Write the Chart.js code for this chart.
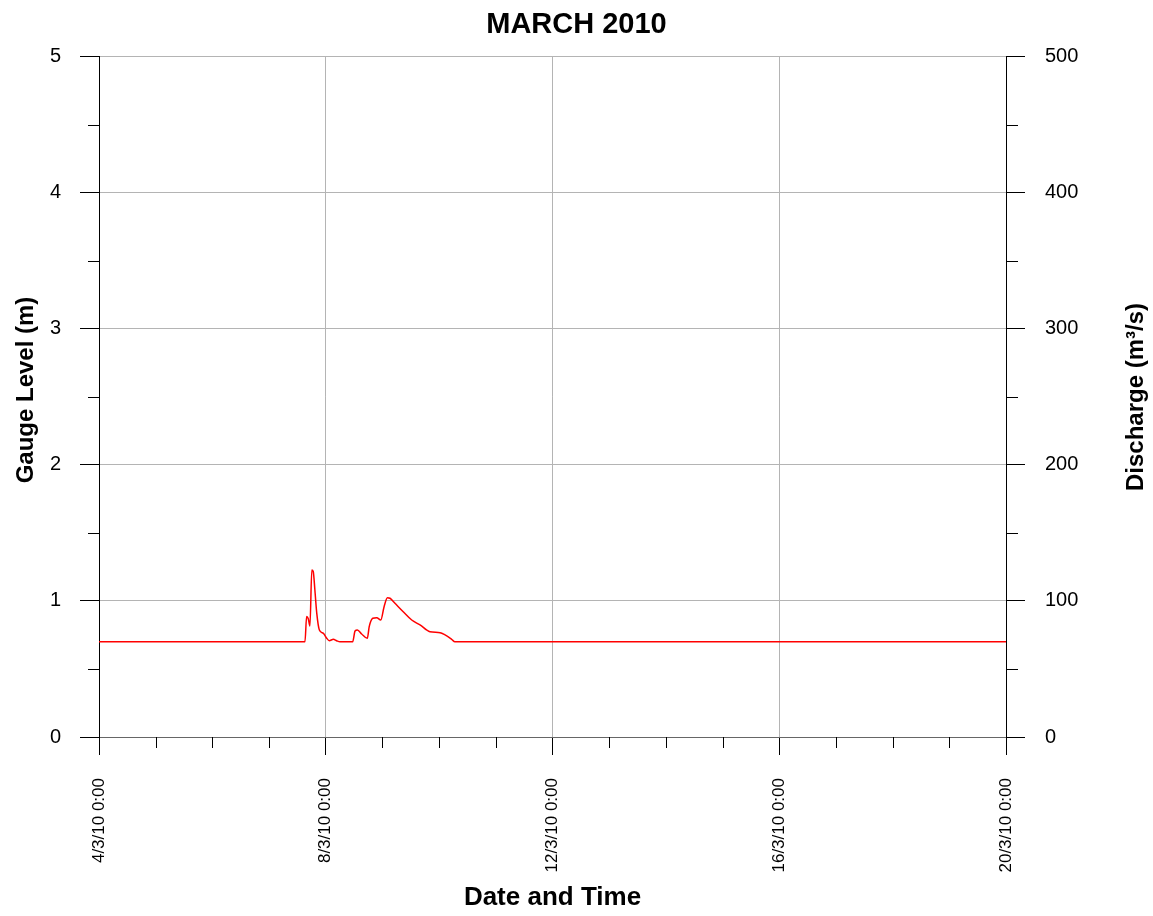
<!DOCTYPE html>
<html>
<head>
<meta charset="utf-8">
<script src="https://cdn.jsdelivr.net/npm/chart.js@4/dist/chart.umd.min.js"></script>
<style>
  html, body { margin: 0; padding: 0; background: #fff; }
</style>
</head>
<body>
<canvas id="grafico" width="1153" height="916"></canvas>
<script>
// hours since 4/3/10 0:00
var hours = [0, 87.2, 87.9, 88.6, 89.3, 90.1, 90.7, 91.4, 92.2, 93.3, 95.0, 96.4, 97.5,
  99.2, 100.6, 102, 107.4, 108.4, 109.4, 111.2, 113.6, 114.4, 115.9, 117.6, 119.3,
  120.7, 122.1, 123.2, 125.3, 128.8, 132.4, 135.9, 140.1, 144.4, 146.5, 149.3, 150.7, 384];
// gauge level (m)
var gaugeLevel = [0.70, 0.70, 0.885, 0.87, 0.816, 1.228, 1.216, 1.081, 0.909, 0.787, 0.762, 0.726, 0.708,
  0.718, 0.708, 0.70, 0.70, 0.779, 0.787, 0.757, 0.725, 0.811, 0.873, 0.877, 0.860,
  0.958, 1.024, 1.02, 0.983, 0.921, 0.86, 0.824, 0.774, 0.767, 0.75, 0.718, 0.70, 0.70];
var xTickLabels = ['4/3/10 0:00', '8/3/10 0:00', '12/3/10 0:00', '16/3/10 0:00', '20/3/10 0:00'];

var fonte = 'Arial, "Liberation Sans", sans-serif';

var pontos = hours.map(function (h, i) { return { x: h, y: gaugeLevel[i] }; });

// minor ticks + vertical axis titles
var extras = {
  id: 'extras',
  afterDraw: function (chart) {
    var ctx = chart.ctx;
    var area = chart.chartArea;
    var sx = chart.scales.x, yl = chart.scales.y, yr = chart.scales.y2;
    ctx.save();
    ctx.strokeStyle = '#000';
    ctx.lineWidth = 1;
    ctx.beginPath();
    for (var h = 24; h < 384; h += 24) {
      if (h % 96 === 0) continue;
      var px = Math.round(sx.getPixelForValue(h)) + 0.5;
      ctx.moveTo(px, area.bottom);
      ctx.lineTo(px, area.bottom + 11);
    }
    for (var v = 0.5; v < 5; v += 1) {
      var py = Math.round(yl.getPixelForValue(v)) + 0.5;
      ctx.moveTo(area.left, py);
      ctx.lineTo(area.left - 11, py);
    }
    for (var d = 50; d < 500; d += 100) {
      var py2 = Math.round(yr.getPixelForValue(d)) + 0.5;
      ctx.moveTo(area.right, py2);
      ctx.lineTo(area.right + 12, py2);
    }
    ctx.stroke();

    ctx.fillStyle = '#000';
    ctx.font = 'bold 24px ' + fonte;
    ctx.textAlign = 'center';
    ctx.textBaseline = 'middle';

    ctx.save();
    ctx.translate(26, 390);
    ctx.rotate(-Math.PI / 2);
    ctx.fillText('Gauge Level (m)', 0, 0);
    ctx.restore();

    ctx.translate(1136, 397);
    ctx.rotate(-Math.PI / 2);
    ctx.fillText('Discharge (m\u00b3/s)', 0, 0);
    ctx.restore();
  }
};

var ctx = document.getElementById('grafico').getContext('2d');
var myChart = new Chart(ctx, {
  type: 'line',
  data: {
    datasets: [{
      label: 'Gauge Level',
      data: pontos,
      borderColor: '#ff0000',
      borderWidth: 1.5,
      pointRadius: 0,
      fill: false,
      cubicInterpolationMode: 'monotone',
      yAxisID: 'y'
    }]
  },
  options: {
    responsive: false,
    animation: false,
    layout: { padding: 0 },
    plugins: {
      legend: { display: false },
      tooltip: { enabled: false },
      title: {
        display: true,
        text: 'MARCH 2010',
        color: '#000',
        font: { family: fonte, size: 29, weight: 'bold' },
        padding: { top: 8, bottom: 14 }
      }
    },
    scales: {
      x: {
        type: 'linear',
        min: 0,
        max: 384,
        afterFit: function (s) { s.height = 179; },
        ticks: {
          stepSize: 96,
          autoSkip: false,
          maxRotation: 90,
          minRotation: 90,
          padding: 23,
          color: '#000',
          font: { family: fonte, size: 17 },
          callback: function (v) { return xTickLabels[Math.round(v / 96)]; }
        },
        grid: { color: '#b4b4b4', tickColor: '#000', tickLength: 18 },
        border: { color: '#666' },
        title: {
          display: true,
          text: 'Date and Time',
          color: '#000',
          font: { family: fonte, size: 26, weight: 'bold' },
          padding: { top: 0, bottom: 3 }
        }
      },
      y: {
        position: 'left',
        min: 0,
        max: 5,
        afterFit: function (s) { s.width = 99; },
        ticks: {
          stepSize: 1,
          padding: 19,
          color: '#000',
          font: { family: fonte, size: 20 }
        },
        grid: { color: '#b4b4b4', tickColor: '#000', tickLength: 19 },
        border: { color: '#000' }
      },
      y2: {
        position: 'right',
        min: 0,
        max: 500,
        afterFit: function (s) { s.width = 147; },
        ticks: {
          stepSize: 100,
          padding: 20,
          color: '#000',
          font: { family: fonte, size: 20 }
        },
        grid: { drawOnChartArea: false, tickColor: '#000', tickLength: 19 },
        border: { color: '#000' }
      }
    }
  },
  plugins: [extras]
});
</script>
</body>
</html>
